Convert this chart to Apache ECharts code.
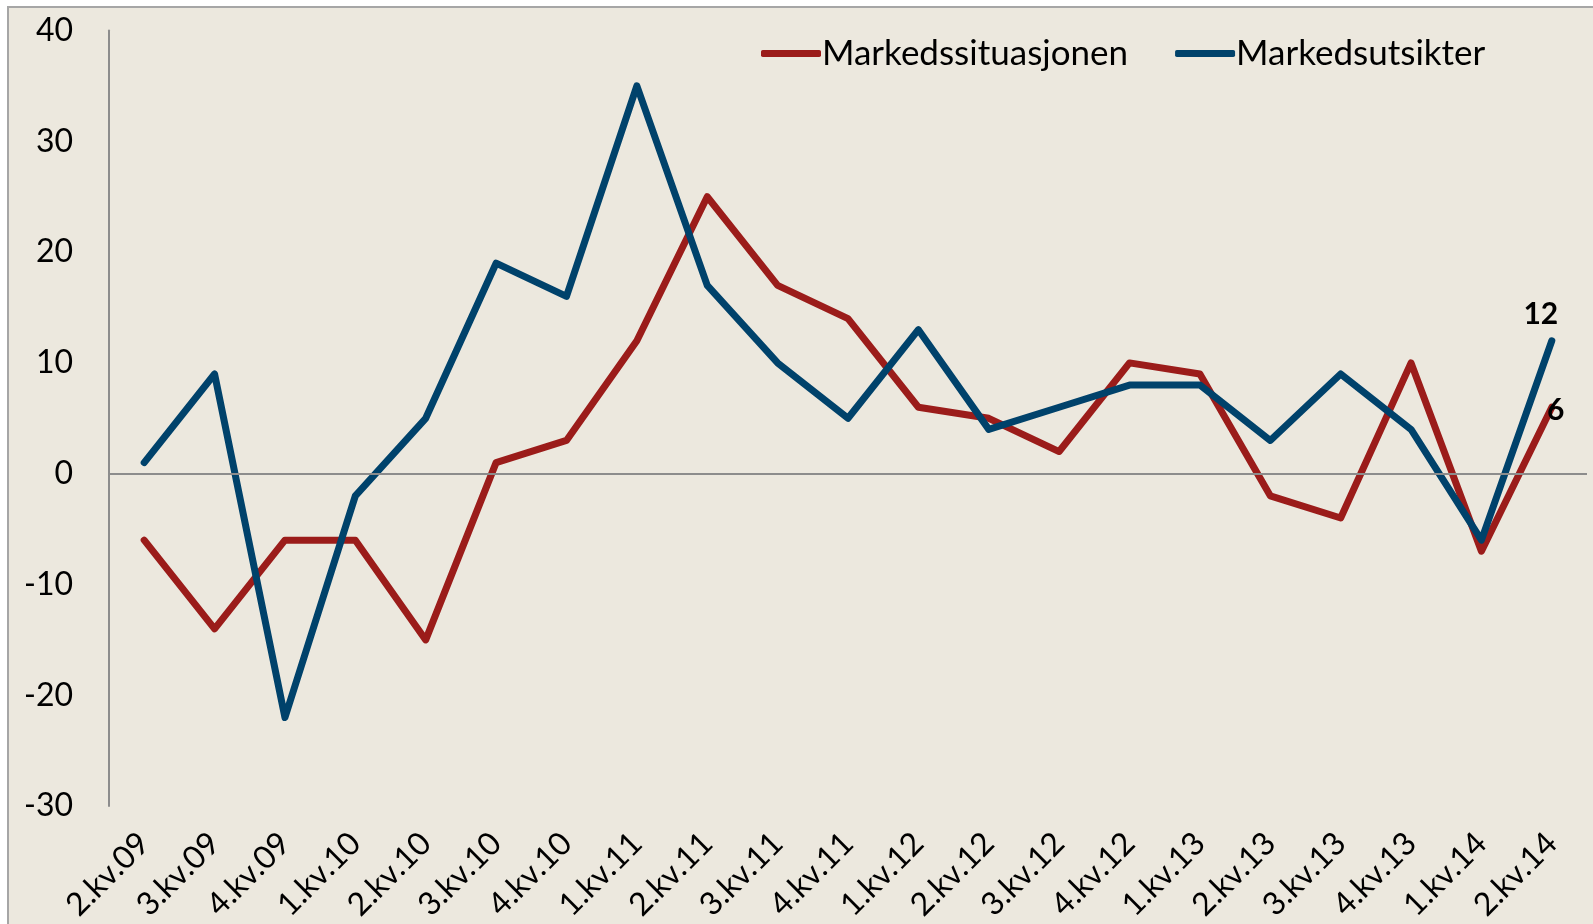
<!DOCTYPE html>
<html>
<head>
<meta charset="utf-8">
<script src="https://cdn.jsdelivr.net/npm/echarts@6/dist/echarts.min.js"></script>
<style>
html,body{margin:0;padding:0;background:#ffffff;}
#c{width:1593px;height:924px;}
</style>
</head>
<body>
<div id="c"></div>
<script>
var categories = ['2.kv.09','3.kv.09','4.kv.09','1.kv.10','2.kv.10','3.kv.10','4.kv.10','1.kv.11','2.kv.11','3.kv.11','4.kv.11','1.kv.12','2.kv.12','3.kv.12','4.kv.12','1.kv.13','2.kv.13','3.kv.13','4.kv.13','1.kv.14','2.kv.14'];
var markedssituasjonen = [-6,-14,-6,-6,-15,1,3,12,25,17,14,6,5,2,10,9,-2,-4,10,-7,6];
var markedsutsikter = [1,9,-22,-2,5,19,16,35,17,10,5,13,4,6,8,8,3,9,4,-6,12];
var yMin = -30, yMax = 40, yStep = 10;

var RED = '#9B1C1A', BLUE = '#00426B';
var FONT = 'Lato';

function withLastLabel(arr, offset) {
  return arr.map(function (v, i) {
    if (i === arr.length - 1) {
      return {value: v, label: {show: true, position: 'top', offset: offset,
        formatter: String(v), color: '#000', fontFamily: FONT, fontWeight: 'bold', fontSize: 30}};
    }
    return v;
  });
}

var chart = echarts.init(document.getElementById('c'), null, {renderer: 'canvas'});
chart.setOption({
  backgroundColor: '#ffffff',
  animation: false,
  graphic: [{
    type: 'rect', z: -10, silent: true,
    shape: {x: 8, y: 7, width: 1700, height: 1000},
    style: {fill: '#ECE8DE', stroke: '#A6A6A6', lineWidth: 2}
  }],
  grid: {left: 109, right: 6, top: 30.5, bottom: 113, containLabel: false},
  legend: {
    left: 756, top: 31,
    itemWidth: 60, itemHeight: 7, itemGap: 47,
    icon: 'roundRect',
    textStyle: {fontFamily: FONT, fontSize: 35, color: '#000', padding: [0, 0, 0, -4]},
    data: ['Markedssituasjonen', 'Markedsutsikter']
  },
  xAxis: {
    type: 'category', data: categories, boundaryGap: true,
    axisLine: {show: false, onZero: false},
    axisTick: {show: false},
    axisLabel: {rotate: 45, margin: 32, interval: 0, fontFamily: FONT, fontSize: 32, color: '#000'},
    splitLine: {show: false}
  },
  yAxis: {
    type: 'value', min: yMin, max: yMax, interval: yStep,
    axisLine: {show: true, lineStyle: {color: '#8C8C8C', width: 2}},
    axisTick: {show: false},
    splitLine: {show: false},
    axisLabel: {margin: 36, fontFamily: FONT, fontSize: 32, color: '#000'}
  },
  series: [
    {
      name: 'Markedssituasjonen', type: 'line',
      data: withLastLabel(markedssituasjonen, [4, 23]),
      symbol: 'circle', symbolSize: 0, showSymbol: true,
      lineStyle: {color: RED, width: 7, cap: 'round', join: 'round'},
      itemStyle: {color: RED},
      z: 3,
      markLine: {
        silent: true, symbol: 'none', animation: false,
        label: {show: false},
        lineStyle: {color: '#8C8C8C', width: 2, type: 'solid'},
        data: [{yAxis: 0}]
      }
    },
    {
      name: 'Markedsutsikter', type: 'line',
      data: withLastLabel(markedsutsikter, [-11, -6]),
      symbol: 'circle', symbolSize: 0, showSymbol: true,
      lineStyle: {color: BLUE, width: 7, cap: 'round', join: 'round'},
      itemStyle: {color: BLUE},
      z: 4
    }
  ]
});
</script>
</body>
</html>
